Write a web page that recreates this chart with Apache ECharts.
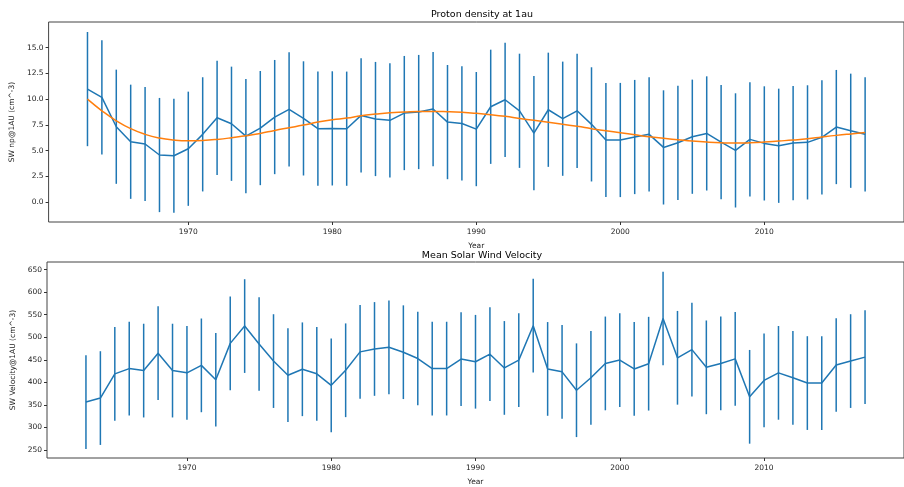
<!DOCTYPE html>
<html>
<head>
<meta charset="utf-8">
<script src="https://cdn.jsdelivr.net/npm/echarts@6/dist/echarts.min.js"></script>
<style>
  html, body { margin: 0; padding: 0; background: #fff; }
  #chart { width: 904px; height: 487px; }
</style>
</head>
<body>
<div id="chart"></div>
<script>
// years 1963..2017
const years = [1963,1964,1965,1966,1967,1968,1969,1970,1971,1972,1973,1974,1975,1976,1977,1978,1979,1980,
  1981,1982,1983,1984,1985,1986,1987,1988,1989,1990,1991,1992,1993,1994,1995,1996,1997,1998,1999,
  2000,2001,2002,2003,2004,2005,2006,2007,2008,2009,2010,2011,2012,2013,2014,2015,2016,2017];

// proton density, yearly mean
const npMean = [10.98,10.17,7.32,5.86,5.64,4.57,4.50,5.18,6.58,8.19,7.61,6.41,7.19,8.26,9.00,8.13,7.13,7.16,
  7.13,8.42,8.07,7.94,8.65,8.75,9.04,7.77,7.64,7.09,9.26,9.94,8.87,6.70,8.97,8.10,8.87,7.55,6.03,
  6.03,6.32,6.58,5.31,5.76,6.35,6.67,5.83,5.02,6.09,5.70,5.47,5.73,5.80,6.29,7.29,6.93,6.58];
const npErr = 5.55;

// fitted curve (orange)
const npFit = [10.00,8.87,7.90,7.13,6.58,6.22,6.03,5.96,5.99,6.09,6.25,6.45,6.67,6.96,7.22,7.48,7.77,8.00,
  8.16,8.39,8.55,8.68,8.75,8.81,8.81,8.78,8.72,8.62,8.49,8.33,8.13,7.94,7.75,7.55,7.36,7.13,6.92,
  6.74,6.54,6.35,6.19,6.06,5.93,5.83,5.76,5.73,5.76,5.83,5.93,6.03,6.15,6.32,6.48,6.62,6.75];

// solar wind velocity, yearly mean
const velMean = [356.2,365.0,418.8,430.4,426.0,464.6,426.0,421.0,437.6,405.7,486.4,524.8,485.0,447.1,415.8,428.9,418.8,393.3,
  426.7,467.5,474.0,477.7,466.8,452.8,430.4,430.4,451.5,445.6,462.4,431.9,449.3,525.7,429.7,423.2,382.4,410.0,441.9,
  449.3,429.7,441.3,541.6,454.4,472.5,433.2,441.9,452.0,367.8,404.2,421.0,410.0,398.3,398.3,438.4,447.1,455.9];
const velErr = 104;

const xTicks = [1970, 1980, 1990, 2000, 2010];
const npTicks = [0, 2.5, 5, 7.5, 10, 12.5, 15];
const velTicks = [250, 300, 350, 400, 450, 500, 550, 600, 650];

const blue = '#1f77b4';
const orange = '#ff7f0e';
const font = 'DejaVu Sans';

const meanLine = (vals) => years.map((y, i) => [y, vals[i]]);
const barData = (vals, err) => years.map((y, i) => [y, vals[i] - err, vals[i] + err]);

// vertical error bars
const renderBar = (params, api) => {
  const lo = api.coord([api.value(0), api.value(1)]);
  const hi = api.coord([api.value(0), api.value(2)]);
  return {
    type: 'line',
    shape: { x1: lo[0], y1: lo[1], x2: hi[0], y2: hi[1] },
    style: { stroke: blue, lineWidth: 1.5 }
  };
};

const xAxisCommon = (gridIndex) => ({
  type: 'value', gridIndex: gridIndex, min: 1960.3, max: 2019.7,
  name: 'Year', nameLocation: 'middle', nameGap: 20,
  nameTextStyle: { fontFamily: font, fontSize: 7.5, color: '#222' },
  splitLine: { show: false },
  axisLine: { show: false, onZero: false },
  axisTick: { show: true, customValues: xTicks, length: 3, lineStyle: { color: '#333' } },
  axisLabel: { customValues: xTicks, fontFamily: font, fontSize: 7.5, color: '#222', margin: 6,
    formatter: (v) => String(v) }
});

const yAxisCommon = (gridIndex, min, max, ticks, name, gap, fmt) => ({
  type: 'value', gridIndex: gridIndex, min: min, max: max,
  name: name, nameLocation: 'middle', nameRotate: 90, nameGap: gap,
  nameTextStyle: { fontFamily: font, fontSize: 7.5, color: '#222' },
  splitLine: { show: false },
  axisLine: { show: false, onZero: false },
  axisTick: { show: true, customValues: ticks, length: 3, lineStyle: { color: '#333' } },
  axisLabel: { customValues: ticks, fontFamily: font, fontSize: 7.5, color: '#222', margin: 5, formatter: fmt }
});

const chart = echarts.init(document.getElementById('chart'), null, { renderer: 'canvas' });
chart.setOption({
  animation: false,
  backgroundColor: '#fff',
  title: [
    { text: 'Proton density at 1au', left: 477, top: 5, textAlign: 'center',
      textStyle: { fontFamily: font, fontSize: 9.5, fontWeight: 'normal', color: '#000' } },
    { text: 'Mean Solar Wind Velocity', left: 477, top: 246, textAlign: 'center',
      textStyle: { fontFamily: font, fontSize: 9.5, fontWeight: 'normal', color: '#000' } }
  ],
  grid: [
    { left: 47, right: -5, top: 22, height: 200, show: true, borderColor: '#444', borderWidth: 1, backgroundColor: 'transparent' },
    { left: 47, right: -5, top: 262, height: 200, show: true, borderColor: '#444', borderWidth: 1, backgroundColor: 'transparent' }
  ],
  xAxis: [xAxisCommon(0), xAxisCommon(1)],
  yAxis: [
    yAxisCommon(0, -1.94, 17.5, npTicks, 'SW np@1AU (cm^-3)', 32, (v) => v.toFixed(1)),
    yAxisCommon(1, 232, 667, velTicks, 'SW Velocity@1AU (cm^-3)', 25, (v) => String(v))
  ],
  series: [
    { type: 'custom', xAxisIndex: 0, yAxisIndex: 0, renderItem: renderBar, data: barData(npMean, npErr), z: 2 },
    { type: 'line', xAxisIndex: 0, yAxisIndex: 0, data: meanLine(npMean), showSymbol: false,
      lineStyle: { color: blue, width: 1.5 }, z: 3 },
    { type: 'line', xAxisIndex: 0, yAxisIndex: 0, data: meanLine(npFit), showSymbol: false, smooth: true,
      lineStyle: { color: orange, width: 1.5 }, z: 4 },
    { type: 'custom', xAxisIndex: 1, yAxisIndex: 1, renderItem: renderBar, data: barData(velMean, velErr), z: 2 },
    { type: 'line', xAxisIndex: 1, yAxisIndex: 1, data: meanLine(velMean), showSymbol: false,
      lineStyle: { color: blue, width: 1.5 }, z: 3 }
  ]
});
</script>
</body>
</html>
